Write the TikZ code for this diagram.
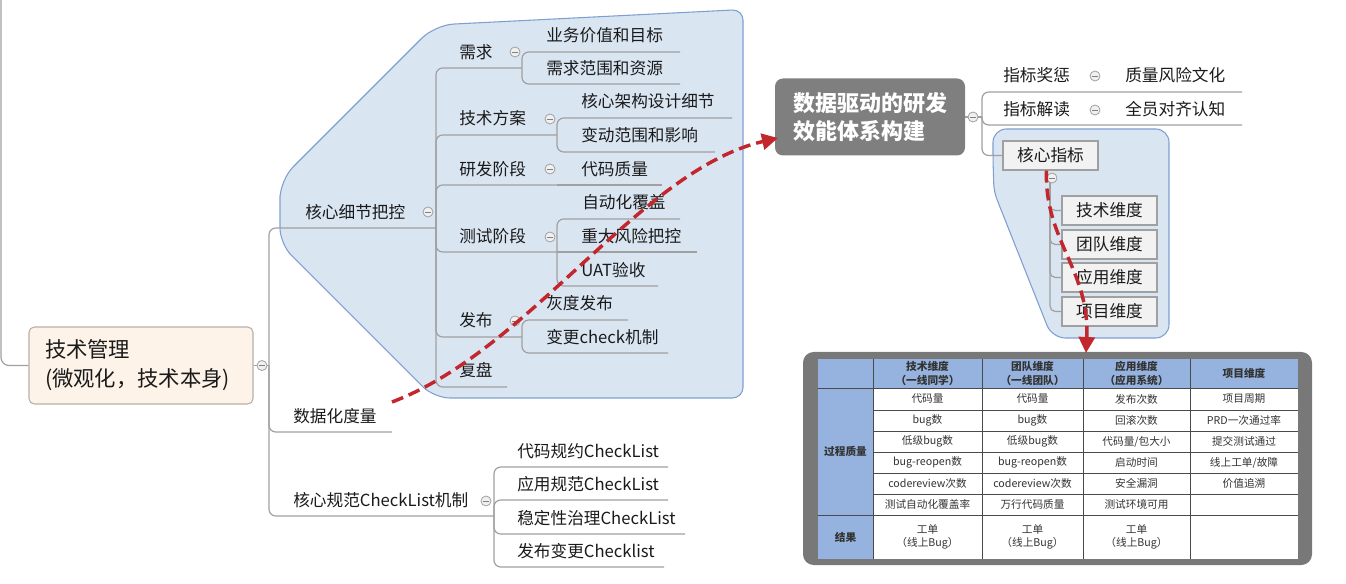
\documentclass[tikz,border=0pt]{standalone}
\usepackage{fontspec}
\setmainfont{Noto Sans CJK SC}
\usetikzlibrary{arrows.meta}
\definecolor{lg}{HTML}{A0A0A0}
\definecolor{txtc}{HTML}{1A1A1A}
\definecolor{grpfill}{HTML}{DAE5F2}
\definecolor{grpline}{HTML}{7E9FD0}
\definecolor{rootfill}{HTML}{FDF3E8}
\definecolor{rootline}{HTML}{B8AEA6}
\definecolor{drivefill}{HTML}{7F7F7F}
\definecolor{boxfill}{HTML}{F2F2F2}
\definecolor{hdr}{HTML}{95B3DE}
\definecolor{framec}{HTML}{787878}
\definecolor{gridc}{HTML}{4A4A4A}
\definecolor{arrred}{HTML}{C1272D}
\definecolor{tblc}{HTML}{333333}
\newcommand{\mfont}{\fontsize{12.5}{15}\selectfont}
\newcommand{\tfont}{\fontsize{8}{10}\selectfont}
\begin{document}
\begin{tikzpicture}[x=0.75pt,y=-0.75pt,
 ln/.style={draw=lg,line width=0.9pt},
 txt/.style={anchor=west,inner sep=0pt,font=\mfont,text=txtc},
 tog/.style={circle,draw=lg,fill=gray!12,minimum size=7.5pt,inner sep=0pt,line width=0.6pt,
   path picture={\draw[lg!80!black,line width=0.6pt] ([xshift=1.8pt]path picture bounding box.west) -- ([xshift=-1.8pt]path picture bounding box.east);}},
 grp/.style={fill=grpfill,draw=grpline,line width=0.8pt},
 ibox/.style={draw=lg,fill=boxfill,minimum width=71.25pt,minimum height=21.75pt,inner sep=0pt,font=\mfont,text=txtc,line width=0.8pt},
 tc/.style={inner sep=0pt,font=\tfont,text=tblc,align=center},
 th/.style={inner sep=0pt,font=\tfont\bfseries,text=tblc,align=center},
 redarr/.style={draw=arrred,line width=2.6pt,dash pattern=on 9pt off 4.5pt,-{Triangle[length=12pt,width=12pt]}}
]
\useasboundingbox (0,0) rectangle (1346,584);

% group shapes
\path[grp] (280,212) [rounded corners=14pt] -- (280,180) -- (435,25) [rounded corners=8pt] -- (743,9.5) -- (743,398) [rounded corners=12pt] -- (434,398) -- (280,244) -- cycle;
\path[grp] (993,160) [rounded corners=10pt] -- (993,129) -- (1169,129) -- (1169,338) -- (1052,338) [rounded corners=6pt] -- (994,192) -- cycle;

% root
\node[draw=rootline,fill=rootfill,rounded corners=4pt,line width=0.8pt,text width=144pt,inner xsep=12pt,inner ysep=0pt,minimum height=57.75pt,align=left,font=\fontsize{16}{21.75}\selectfont,text=txtc] (root) at (141,365.5) {技术管理\\(微观化，技术本身)};

\draw[ln,rounded corners=6pt] (1,0) |- (root.west);
\draw[ln] (root.east) -- (269,365.5);
\draw[ln,rounded corners=5pt] (269,365.5) |- (436,228);
\draw[ln,rounded corners=5pt] (269,365.5) |- (392,432);
\draw[ln,rounded corners=5pt] (269,365.5) |- (494,516);

% group 1 internal lines
\foreach \y/\e in {68/522,135/557,185/557,252/557,337/522,387/507}
  \draw[ln,rounded corners=5pt] (436,228) |- (\e,\y);
\foreach \y/\e in {52/680,84/680}
  \draw[ln,rounded corners=5pt] (522,68) |- (\e,\y);
\foreach \y/\e in {118/732,152/715}
  \draw[ln,rounded corners=5pt] (557,135) |- (\e,\y);
\draw[ln] (557,185) -- (662,185);
\foreach \y/\e in {219/680,286/658}
  \draw[ln,rounded corners=5pt] (557,252) |- (\e,\y);
\draw[ln] (557,252) -- (697,252);
\foreach \y/\e in {320/628,353/668}
  \draw[ln,rounded corners=5pt] (522,337) |- (\e,\y);
\foreach \y/\e in {467/668,500/668,534/685,567/664}
  \draw[ln,rounded corners=5pt] (494,516) |- (\e,\y);

% left texts
\node[txt] (c1) at (305,212) {核心细节把控};
\node[txt] (c2) at (293,416) {数据化度量};
\node[txt] (c3) at (293,500) {核心规范CheckList机制};
\node[txt] (n1) at (459,52) {需求};
\node[txt] (n11) at (546,35) {业务价值和目标};
\node[txt] (n12) at (546,68) {需求范围和资源};
\node[txt] (n2) at (459,118) {技术方案};
\node[txt] (n21) at (581,101) {核心架构设计细节};
\node[txt] (n22) at (581,135) {变动范围和影响};
\node[txt] (n3) at (459,169) {研发阶段};
\node[txt] (n31) at (581,169) {代码质量};
\node[txt] (n4) at (459,236) {测试阶段};
\node[txt] (n41) at (582,202) {自动化覆盖};
\node[txt] (n42) at (581,236) {重大风险把控};
\node[txt] (n43) at (581,270) {UAT验收};
\node[txt] (n5) at (459,320) {发布};
\node[txt] (n51) at (546,303) {灰度发布};
\node[txt] (n52) at (546,337) {变更check机制};
\node[txt] (n6) at (459,370) {复盘};
\node[txt] (k1) at (517,451) {代码规约CheckList};
\node[txt] (k2) at (517,484) {应用规范CheckList};
\node[txt] (k3) at (517,518) {稳定性治理CheckList};
\node[txt] (k4) at (517,551) {发布变更Checklist};

% right part
\node[fill=drivefill,rounded corners=6pt,text width=115.5pt,inner xsep=13.5pt,inner ysep=0pt,minimum height=57.75pt,align=left,font=\fontsize{16.5}{21}\selectfont\bfseries,text=white] (drive) at (870,117) {数据驱动的研发\\效能体系构建};
\draw[ln] (drive.east) -- (982,117);
\draw[ln,rounded corners=5pt] (982,117) |- (1242,92);
\draw[ln,rounded corners=5pt] (982,117) |- (1242,125);
\node[ibox] (kz) at (1050.5,155.5) {核心指标};
\draw[ln,rounded corners=5pt] (982,117) |- (kz.west);
\node[ibox] (d1) at (1109.5,210.5) {技术维度};
\node[ibox] (d2) at (1109.5,244.5) {团队维度};
\node[ibox] (d3) at (1109.5,277.5) {应用维度};
\node[ibox] (d4) at (1109.5,311.5) {项目维度};
\foreach \n in {d1,d2,d3,d4}
  \draw[ln,rounded corners=4pt] (1050,178) |- (\n.west);
\node[txt] (m1) at (1003,75) {指标奖惩};
\node[txt] (m11) at (1125,75) {质量风险文化};
\node[txt] (m2) at (1003,109) {指标解读};
\node[txt] (m21) at (1125,109) {全员对齐认知};

% toggles
\foreach \p in {(262,365.5),(428,212),(486,501),(515,52),(550,119),(550,169),(550,237),(515,321),(973,117),(1095,76),(1095,110),(1052,178)}
  \node[tog] at \p {};

% table
\fill[framec,rounded corners=8pt] (803,352) rectangle (1312,565);
\fill[white] (818,359) rectangle (1298,559);
\fill[hdr] (818,359) rectangle (1298,388);
\fill[hdr] (818,388) rectangle (873,559);
\draw[gridc,line width=0.5pt] (818,388) -- (1298,388);
\draw[gridc,line width=0.5pt] (818,515) -- (1298,515);
\foreach \y in {410,431,452,473,494}
  \draw[gridc,line width=0.5pt] (873,\y) -- (1298,\y);
\foreach \x in {873,982,1083,1190}
  \draw[gridc,line width=0.5pt] (\x,359) -- (\x,559);

\node[th] (h2) at (927.5,373.5) {技术维度\\（一线同学）};
\node[th] (h3) at (1032.5,373.5) {团队维度\\（一线团队）};
\node[th] (h4) at (1136.5,373.5) {应用维度\\（应用系统）};
\node[th] (h5) at (1244,373.5) {项目维度};
\node[th] (gq) at (845.5,451.5) {过程质量};
\node[th] (jg) at (845.5,537) {结果};

\node[tc] (r1a) at (927.5,399) {代码量};
\node[tc] (r1b) at (1032.5,399) {代码量};
\node[tc] (r1c) at (1136.5,399) {发布次数};
\node[tc] (r1d) at (1244,399) {项目周期};
\node[tc] (r2a) at (927.5,420.5) {bug数};
\node[tc] (r2b) at (1032.5,420.5) {bug数};
\node[tc] (r2c) at (1136.5,420.5) {回滚次数};
\node[tc] (r2d) at (1244,420.5) {PRD一次通过率};
\node[tc] (r3a) at (927.5,441.5) {低级bug数};
\node[tc] (r3b) at (1032.5,441.5) {低级bug数};
\node[tc] (r3c) at (1136.5,441.5) {代码量/包大小};
\node[tc] (r3d) at (1244,441.5) {提交测试通过};
\node[tc] (r4a) at (927.5,462.5) {bug-reopen数};
\node[tc] (r4b) at (1032.5,462.5) {bug-reopen数};
\node[tc] (r4c) at (1136.5,462.5) {启动时间};
\node[tc] (r4d) at (1244,462.5) {线上工单/故障};
\node[tc] (r5a) at (927.5,483.5) {codereview次数};
\node[tc] (r5b) at (1032.5,483.5) {codereview次数};
\node[tc] (r5c) at (1136.5,483.5) {安全漏洞};
\node[tc] (r5d) at (1244,483.5) {价值追溯};
\node[tc] (r6a) at (927.5,504.5) {测试自动化覆盖率};
\node[tc] (r6b) at (1032.5,504.5) {万行代码质量};
\node[tc] (r6c) at (1136.5,504.5) {测试环境可用};
\node[tc] (r7a) at (927.5,537) {工单\\（线上Bug）};
\node[tc] (r7b) at (1032.5,537) {工单\\（线上Bug）};
\node[tc] (r7c) at (1136.5,537) {工单\\（线上Bug）};

% red dashed arrows
\coordinate (a1s) at (392,402);
\coordinate (a1e) at (778,138);
\draw[redarr] (a1s) .. controls (530,350) and (640,170) .. (a1e);
\coordinate (a2e) at (1086,353);
\draw[redarr] ([xshift=-3pt]kz.south) .. controls (1044,240) and (1090,270) .. (a2e);
\end{tikzpicture}
\end{document}
